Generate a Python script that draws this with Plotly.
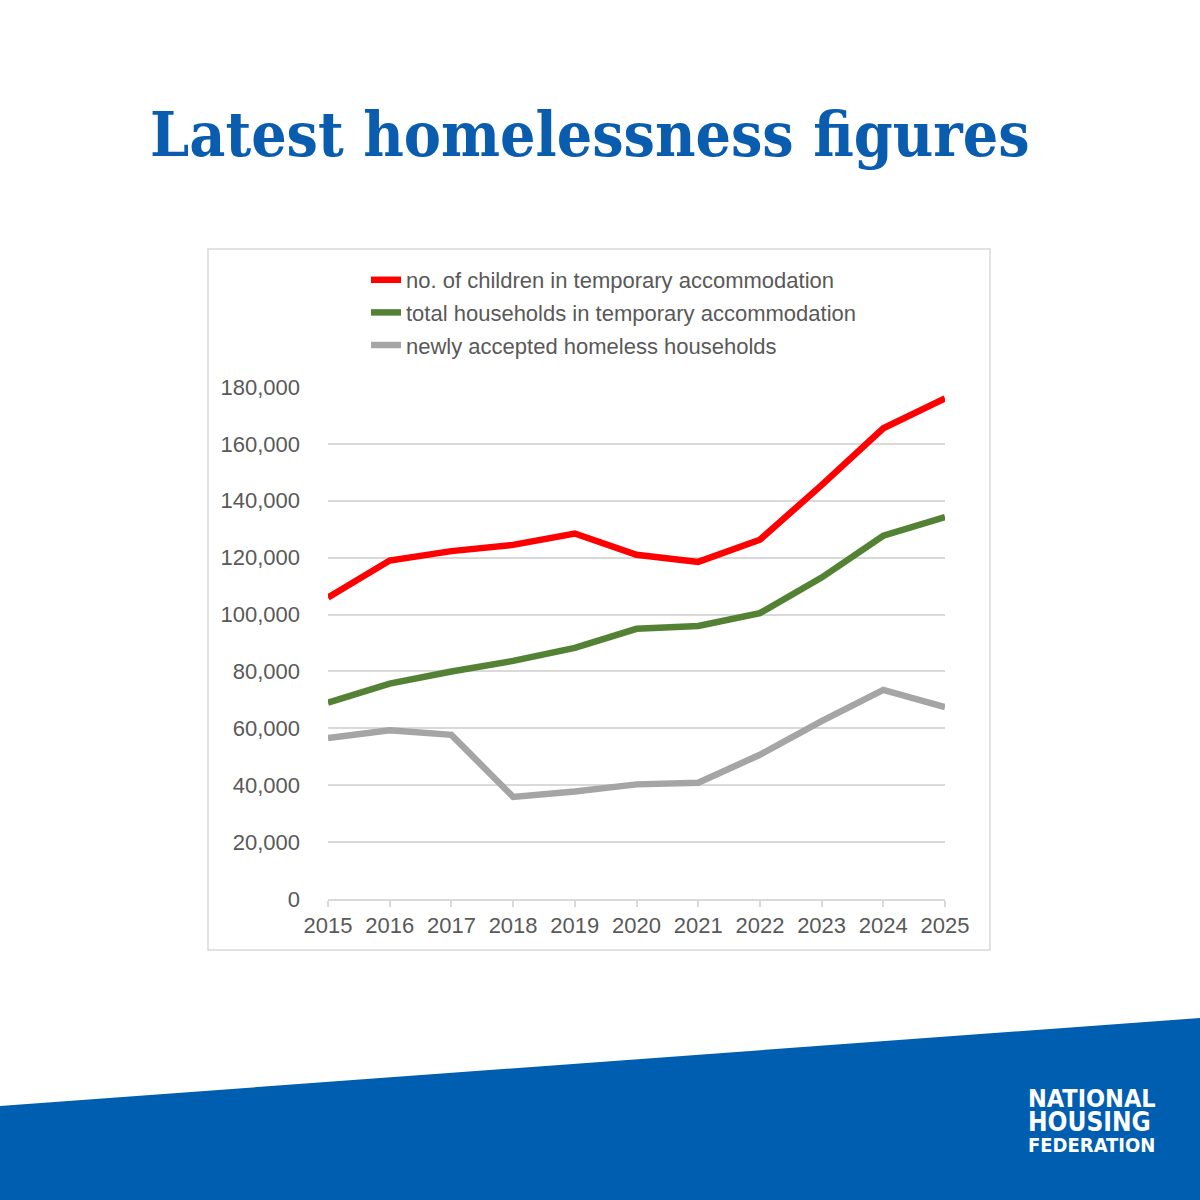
import plotly.graph_objects as go

# Data
years = [2015, 2016, 2017, 2018, 2019, 2020, 2021, 2022, 2023, 2024, 2025]
children_in_ta = [106000, 119000, 122300, 124500, 128500, 121000, 118500, 126300, 145500, 165500, 176000]
households_in_ta = [69000, 75700, 80000, 83700, 88300, 95000, 96000, 100500, 113000, 127700, 134300]
newly_accepted = [56600, 59300, 57700, 35900, 37800, 40300, 40900, 50700, 62500, 73500, 67500]

series_names = [
    "no. of children in temporary accommodation",
    "total households in temporary accommodation",
    "newly accepted homeless households",
]
series_colors = ["#FF0000", "#548235", "#A5A5A5"]

W, H = 1200, 1200
TEXT_GREY = "#595959"
GRID = "#D9D9D9"
NHF_BLUE = "#005EB0"


def px_x(v):
    return v / W


def px_y(v):
    # pixel row from top -> paper fraction from bottom
    return 1 - v / H


fig = go.Figure()

for i, (name, vals, col) in enumerate(zip(series_names, [children_in_ta, households_in_ta, newly_accepted], series_colors)):
    fig.add_trace(go.Scatter(
        x=years,
        y=vals,
        name=name,
        mode="lines",
        line=dict(color=col, width=6.5),
        legendgroup=str(i),
        hoverinfo="skip",
    ))

fig.update_layout(
    width=W,
    height=H,
    margin=dict(l=0, r=0, t=0, b=0, autoexpand=False),
    paper_bgcolor="white",
    plot_bgcolor="white",
    font=dict(family="Liberation Sans, Arial, sans-serif", color=TEXT_GREY, size=22),
    showlegend=True,
    legend=dict(
        x=px_x(366),
        y=px_y(259),
        xanchor="left",
        yanchor="top",
        bgcolor="rgba(0,0,0,0)",
        font=dict(size=22, color=TEXT_GREY),
        tracegroupgap=1,
        itemwidth=30,
    ),
    xaxis=dict(
        domain=[px_x(328), px_x(945)],
        range=[2015, 2025],
        tickmode="array",
        tickvals=years,
        ticktext=[str(y) for y in years],
        showgrid=False,
        zeroline=False,
        showline=True,
        linecolor=GRID,
        linewidth=1.5,
        ticks="outside",
        ticklen=6,
        tickcolor=GRID,
        tickwidth=1.5,
        tickfont=dict(size=22, color=TEXT_GREY),
        automargin=False,
        fixedrange=True,
    ),
    yaxis=dict(
        domain=[px_y(899), px_y(387)],
        range=[0, 180000],
        tickmode="array",
        tickvals=list(range(0, 180001, 20000)),
        tickformat=",d",
        showgrid=True,
        gridcolor=GRID,
        gridwidth=1.5,
        zeroline=False,
        showline=False,
        ticks="",
        ticklabelstandoff=27,
        tickfont=dict(size=22, color=TEXT_GREY),
        automargin=False,
        fixedrange=True,
    ),
)

# chart frame
fig.add_shape(
    type="rect", xref="paper", yref="paper",
    x0=px_x(208), x1=px_x(990), y0=px_y(950), y1=px_y(249),
    line=dict(color=GRID, width=1.5), fillcolor="rgba(0,0,0,0)", layer="below",
)

# blue slanted band along the bottom
fig.add_shape(
    type="path", xref="paper", yref="paper",
    path=f"M 0 {px_y(1106)} L 1 {px_y(1018)} L 1 0 L 0 0 Z",
    line=dict(width=0), fillcolor=NHF_BLUE, layer="below",
)

fig.add_annotation(
    text="<b>Latest homelessness figures</b>",
    xref="paper", yref="paper", x=px_x(590), y=px_y(134),
    xanchor="center", yanchor="middle", showarrow=False,
    font=dict(family="DejaVu Serif Condensed, Liberation Serif, serif", size=62, color="#0A5DAE"),
)

for text, row, size in [("NATIONAL", 1098, 25), ("HOUSING", 1122, 26), ("FEDERATION", 1145, 20)]:
    fig.add_annotation(
        text=f"<b>{text}</b>",
        xref="paper", yref="paper", x=px_x(1026), y=px_y(row),
        xanchor="left", yanchor="middle", showarrow=False,
        font=dict(family="DejaVu Sans Condensed, DejaVu Sans, sans-serif", size=size, color="white"),
    )

# drop the default page margin so the figure sits flush in the window
fig.write_html(
    "out.html",
    config={"displayModeBar": False},
    post_script="document.body.style.margin = '0';",
)
